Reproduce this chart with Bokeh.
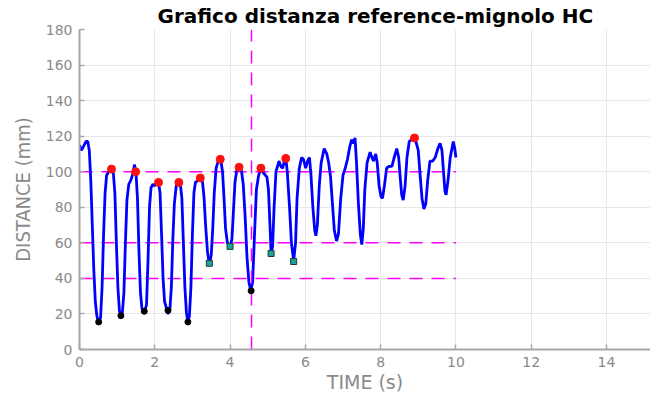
from bokeh.plotting import figure
from bokeh.models import FixedTicker
from bokeh.embed import file_html
from bokeh.resources import INLINE

# ---- data ----
time_s = [0.00, 0.05, 0.10, 0.17, 0.22, 0.26, 0.30, 0.34, 0.38, 0.42, 0.46, 0.51, 0.56, 0.60, 0.64, 0.68,
          0.72, 0.78, 0.85, 0.90, 0.94, 0.98, 1.02, 1.06, 1.10, 1.14, 1.18, 1.22, 1.26, 1.31, 1.36, 1.42,
          1.46, 1.50, 1.54, 1.58, 1.62, 1.66, 1.72, 1.78, 1.82, 1.86, 1.90, 1.95, 2.00, 2.05, 2.10, 2.14,
          2.18, 2.22, 2.26, 2.30, 2.35, 2.40, 2.44, 2.48, 2.52, 2.57, 2.63, 2.68, 2.72, 2.76, 2.80, 2.84,
          2.88, 2.92, 2.96, 3.00, 3.04, 3.08, 3.14, 3.21, 3.27, 3.31, 3.35, 3.40, 3.45, 3.50, 3.54, 3.58,
          3.63, 3.70, 3.75, 3.80, 3.84, 3.88, 3.93, 4.00, 4.05, 4.09, 4.13, 4.18, 4.24, 4.30, 4.35, 4.40,
          4.45, 4.50, 4.55, 4.60, 4.65, 4.70, 4.76, 4.82, 4.90, 4.98, 5.02, 5.06, 5.09, 5.13, 5.17, 5.22,
          5.30, 5.35, 5.40, 5.45, 5.48, 5.52, 5.58, 5.63, 5.69, 5.74, 5.78, 5.84, 5.90, 5.95, 6.01, 6.06,
          6.11, 6.15, 6.20, 6.25, 6.28, 6.32, 6.37, 6.42, 6.50, 6.57, 6.62, 6.67, 6.72, 6.77, 6.83, 6.88,
          6.94, 7.00, 7.06, 7.12, 7.18, 7.23, 7.28, 7.32, 7.36, 7.41, 7.46, 7.50, 7.54, 7.58, 7.64, 7.72,
          7.77, 7.81, 7.87, 7.91, 7.96, 8.01, 8.05, 8.10, 8.16, 8.22, 8.30, 8.36, 8.43, 8.48, 8.52, 8.56,
          8.60, 8.65, 8.70, 8.76, 8.82, 8.90, 8.95, 9.00, 9.05, 9.10, 9.15, 9.20, 9.25, 9.31, 9.38, 9.45,
          9.52, 9.58, 9.63, 9.67, 9.71, 9.74, 9.79, 9.85, 9.93, 9.97, 10.00]
distance_mm = [115, 112, 114, 117, 117, 112, 95, 70, 45, 27, 19, 15, 18, 35, 65, 88,
               98, 100, 101, 99, 88, 60, 35, 22, 18, 21, 32, 60, 84, 93, 95, 99,
               104, 100, 85, 55, 32, 23, 21, 25, 50, 80, 91, 93, 92, 94, 94, 88,
               65, 40, 27, 24, 20, 22, 35, 62, 82, 92, 94, 93, 85, 60, 35, 21,
               15, 19, 35, 65, 88, 94, 95, 97, 94, 85, 70, 55, 48, 53, 68, 88,
               102, 107, 107, 100, 85, 68, 60, 58, 62, 78, 94, 101, 103, 101, 93, 75,
               52, 38, 33, 38, 65, 90, 98, 102, 99, 97, 90, 70, 54, 58, 80, 100,
               106, 103, 102, 107, 108, 100, 80, 60, 50, 60, 85, 102, 108, 107, 102, 106,
               108, 98, 80, 67, 64, 70, 92, 105, 113, 110, 105, 97, 82, 67, 61, 65,
               85, 98, 102, 107, 114, 118, 116, 119, 105, 82, 65, 59, 68, 90, 105, 111,
               108, 106, 110, 105, 92, 86, 85, 92, 102, 103, 103, 108, 113, 108, 97, 87,
               84, 92, 108, 117, 118, 119, 116, 112, 98, 85, 79, 82, 95, 106, 106, 108,
               113, 116, 112, 100, 89, 87, 95, 108, 117, 113, 108]

max_t = [0.85, 1.49, 2.10, 2.64, 3.21, 3.74, 4.24, 4.82, 5.48, 8.90]
max_y = [101.5, 100, 94, 94, 96.5, 107, 102.5, 102, 107.5, 119]
min_t = [0.51, 1.10, 1.72, 2.35, 2.88, 4.56]
min_y = [15.5, 19, 21.5, 22, 15.5, 33]
mid_t = [3.45, 4.00, 5.09, 5.69]
mid_y = [48.5, 58, 54, 49.5]

h_levels = [100, 60, 40]
h_start, h_end = 0, 10
v_time = 4.57

x_ticks = [0, 2, 4, 6, 8, 10, 12, 14]
y_ticks = [0, 20, 40, 60, 80, 100, 120, 140, 160, 180]

title_text = "Grafico distanza reference-mignolo HC"
x_label = "TIME (s)"
y_label = "DISTANCE (mm)"

# ---- figure ----
p = figure(width=650, height=395, x_range=(0, 15.17), y_range=(0, 180),
           output_backend="svg", toolbar_location=None, title=title_text,
           min_border_left=79, min_border_right=0, min_border_top=28, min_border_bottom=45)
p.outline_line_color = None
p.background_fill_color = "white"
p.border_fill_color = "white"

p.title.text_font = "DejaVu Sans"
p.title.text_font_style = "bold"
p.title.text_font_size = "20px"
p.title.text_color = "black"
p.title.align = "left"
p.title.offset = 78
p.title.standoff = 3

gray_txt = "#8a8a8a"
for ax in (p.xaxis[0], p.yaxis[0]):
    ax.axis_line_color = "#a8a8a8"
    ax.axis_line_width = 2
    ax.major_tick_line_color = "#a8a8a8"
    ax.major_tick_line_width = 1.5
    ax.major_tick_in = 5
    ax.major_tick_out = 0
    ax.minor_tick_line_color = None
    ax.major_label_text_color = gray_txt
    ax.major_label_text_font = "DejaVu Sans"
    ax.major_label_text_font_size = "14px"
    ax.axis_label_text_color = gray_txt
    ax.axis_label_text_font_style = "normal"

p.xaxis[0].ticker = FixedTicker(ticks=x_ticks)
p.yaxis[0].ticker = FixedTicker(ticks=y_ticks)
p.xaxis[0].axis_label = x_label
p.yaxis[0].axis_label = y_label
p.xaxis[0].axis_label_text_font = "DejaVu Sans"
p.xaxis[0].axis_label_text_font_size = "19px"
p.xaxis[0].major_label_standoff = 7
p.xaxis[0].axis_label_standoff = 1
p.yaxis[0].axis_label_text_font = "Liberation Sans Narrow, DejaVu Sans Condensed, Liberation Sans"
p.yaxis[0].axis_label_text_font_size = "20px"
p.yaxis[0].major_label_standoff = 7
p.yaxis[0].axis_label_standoff = 8

p.xgrid.grid_line_color = "#e8e8e8"
p.ygrid.grid_line_color = "#e8e8e8"
p.xgrid.grid_line_width = 1
p.ygrid.grid_line_width = 1

# dashed reference lines
for lv in h_levels:
    p.line([h_start, h_end], [lv, lv], line_color="#ff00ff", line_width=1.5, line_dash="13 9")

# signal
p.line(time_s, distance_mm, line_color="#0000ff", line_width=2.8)

p.line([v_time, v_time], [0, 180], line_color="#ff00ff", line_width=1.5, line_dash="13 9")

# markers
p.scatter(max_t, max_y, marker="circle", size=8, fill_color="#ff1010", line_color="#ff1010")
p.scatter(min_t, min_y, marker="circle", size=6, fill_color="black", line_color="black")
p.scatter(mid_t, mid_y, marker="square", size=6, fill_color="#1aa39a", line_color="#1e3d2f", line_width=1)

open("out.html", "w").write(file_html(p, INLINE))
